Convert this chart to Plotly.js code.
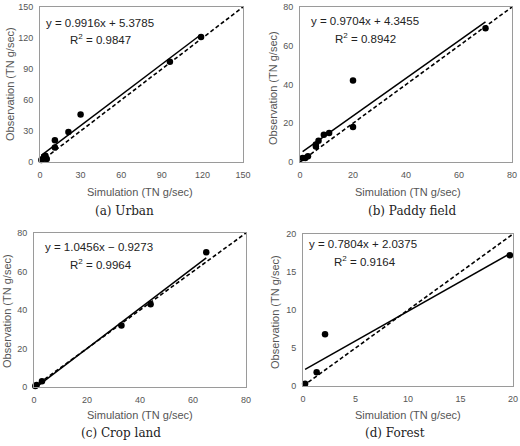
<!DOCTYPE html>
<html>
<head>
<meta charset="utf-8">
<script src="https://cdn.plot.ly/plotly-3.0.1.min.js"></script>
<style>html,body{margin:0;padding:0;background:#fff;}#chart{width:520px;height:446px;}</style>
</head>
<body>
<div id="chart"></div>
<script>
// Data
const panelNames = ["(a) Urban", "(b) Paddy field", "(c) Crop land", "(d) Forest"];
const axisMax = [150, 80, 80, 20];
const tickStep = [30, 20, 20, 5];

const urbanSim = [1, 2, 3, 4, 5, 11, 11, 21, 30, 96, 119];
const urbanObs = [2, 3, 5, 6, 3, 14, 21, 29, 46, 97, 121];
const paddySim = [1, 2, 3, 6, 6, 7, 9, 11, 20, 20, 70];
const paddyObs = [2, 2, 3, 8, 9, 11, 14, 15, 18, 42, 69];
const cropSim = [0.5, 1, 3, 33, 44, 65];
const cropObs = [0.5, 1, 3, 32, 43, 70];
const forestSim = [0.2, 1.3, 2.1, 19.7];
const forestObs = [0.3, 1.8, 6.8, 17.2];

const slopes = [0.9916, 0.9704, 1.0456, 0.7804];
const intercepts = [5.3785, 4.3455, -0.9273, 2.0375];
const r2 = [0.9847, 0.8942, 0.9964, 0.9164];

const sims = [urbanSim, paddySim, cropSim, forestSim];
const obs = [urbanObs, paddyObs, cropObs, forestObs];

// Layout geometry (pixels)
const W = 520, H = 446;
const boxes = [
  {l: 40, r: 243, t: 7, b: 162},
  {l: 300, r: 512, t: 7, b: 162},
  {l: 34, r: 246, t: 233, b: 387},
  {l: 303, r: 513, t: 234, b: 386}
];
const eqPos = [
  {x: 44, y: 23, rx: 68, ry: 39},
  {x: 309, y: 21, rx: 333, ry: 38},
  {x: 43, y: 247, rx: 68, ry: 264},
  {x: 307, y: 244, rx: 332, ry: 261}
];
const xTitlePos = [{x: 140, y: 192}, {x: 408, y: 192}, {x: 140, y: 415}, {x: 408, y: 415}];
const yTitlePos = [{x: 10, y: 84}, {x: 273, y: 88}, {x: 7, y: 311}, {x: 275, y: 312}];
const capPos = [{x: 124, y: 211}, {x: 412, y: 211}, {x: 121, y: 433}, {x: 395, y: 433}];

const px = x => x / W;
const py = y => 1 - y / H;

const traces = [];
const layout = {
  width: W, height: H,
  margin: {l: 0, r: 0, t: 0, b: 0},
  paper_bgcolor: '#fff', plot_bgcolor: '#fff',
  showlegend: false,
  font: {family: 'Liberation Sans, Arial, sans-serif', color: '#444'},
  annotations: []
};

const fmt = v => (v >= 0 ? '+ ' : '\u2212 ') + Math.abs(v).toFixed(4);

for (let i = 0; i < 4; i++) {
  const n = i + 1;
  const xa = n === 1 ? 'x' : 'x' + n;
  const ya = n === 1 ? 'y' : 'y' + n;
  const xs = sims[i], ys = obs[i];
  const xmin = Math.min(...xs), xmax = Math.max(...xs);
  // 1:1 line
  traces.push({x: [0, axisMax[i]], y: [0, axisMax[i]], xaxis: xa, yaxis: ya, mode: 'lines',
    line: {color: '#000', width: 1.6, dash: '4px,2.5px'}, hoverinfo: 'skip'});
  // regression line
  traces.push({x: [xmin, xmax], y: [slopes[i] * xmin + intercepts[i], slopes[i] * xmax + intercepts[i]],
    xaxis: xa, yaxis: ya, mode: 'lines', line: {color: '#000', width: 1.5}, hoverinfo: 'skip'});
  // points
  traces.push({x: xs, y: ys, xaxis: xa, yaxis: ya, mode: 'markers',
    marker: {color: '#000', size: 6.5}, cliponaxis: false});

  const b = boxes[i];
  const axCommon = {
    range: [0, axisMax[i]], dtick: tickStep[i], tick0: 0,
    showgrid: false, zeroline: false,
    showline: true, mirror: true, linecolor: '#9a9a9a', linewidth: 1,
    ticks: '', tickfont: {size: 9, color: '#555'},
    fixedrange: true
  };
  layout['xaxis' + (n === 1 ? '' : n)] = Object.assign({}, axCommon, {
    domain: [px(b.l), px(b.r)], anchor: ya, ticklabelstandoff: 4
  });
  layout['yaxis' + (n === 1 ? '' : n)] = Object.assign({}, axCommon, {
    domain: [py(b.b), py(b.t)], anchor: xa, ticklabelstandoff: 4
  });

  const e = eqPos[i];
  layout.annotations.push({
    xref: 'paper', yref: 'paper', x: px(e.x), y: py(e.y), xanchor: 'left', yanchor: 'middle',
    text: 'y = ' + slopes[i].toFixed(4) + 'x ' + fmt(intercepts[i]), showarrow: false,
    font: {size: 11.5, color: '#222'}
  });
  layout.annotations.push({
    xref: 'paper', yref: 'paper', x: px(e.rx), y: py(e.ry), xanchor: 'left', yanchor: 'middle',
    text: 'R<sup>2</sup> = ' + r2[i].toFixed(4), showarrow: false,
    font: {size: 11.5, color: '#222'}
  });
  const xt = xTitlePos[i];
  layout.annotations.push({
    xref: 'paper', yref: 'paper', x: px(xt.x), y: py(xt.y), xanchor: 'center', yanchor: 'middle',
    text: 'Simulation (TN g/sec)', showarrow: false, font: {size: 11, color: '#555'}
  });
  const yt = yTitlePos[i];
  layout.annotations.push({
    xref: 'paper', yref: 'paper', x: px(yt.x), y: py(yt.y), xanchor: 'center', yanchor: 'middle',
    text: 'Observation (TN g/sec)', textangle: -90, showarrow: false, font: {size: 11, color: '#555'}
  });
  const c = capPos[i];
  layout.annotations.push({
    xref: 'paper', yref: 'paper', x: px(c.x), y: py(c.y), xanchor: 'center', yanchor: 'middle',
    text: panelNames[i], showarrow: false,
    font: {size: 12, color: '#222', family: 'DejaVu Serif, serif'}
  });
}

Plotly.newPlot('chart', traces, layout, {staticPlot: true, displayModeBar: false});
</script>
</body>
</html>
